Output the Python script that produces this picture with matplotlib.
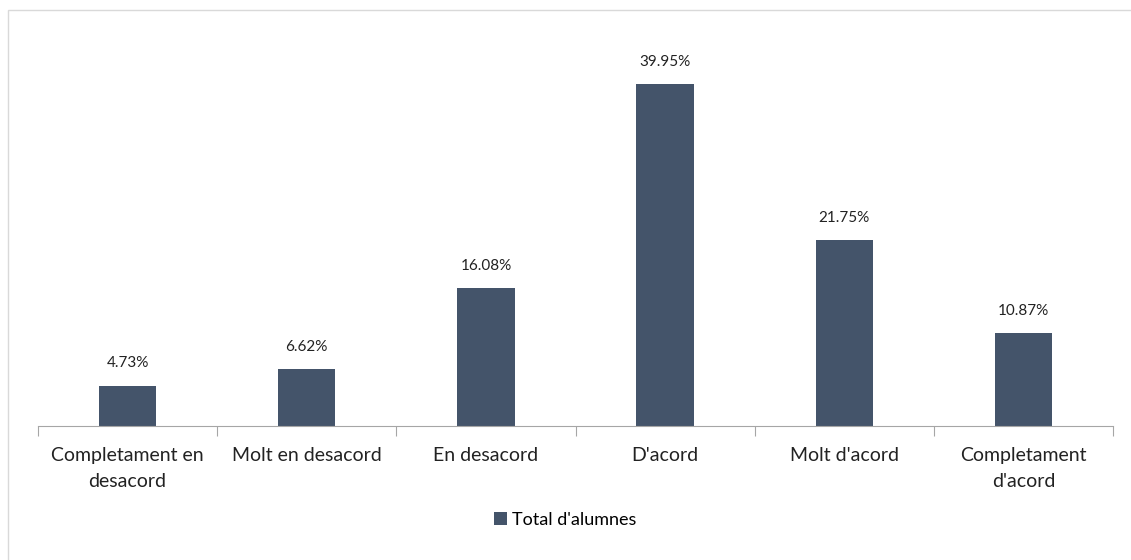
import matplotlib
matplotlib.use("Agg")
import matplotlib.pyplot as plt
from matplotlib.patches import Rectangle

categories = ["Completament en\ndesacord", "Molt en desacord", "En desacord",
              "D'acord", "Molt d'acord", "Completament\nd'acord"]
values = [4.73, 6.62, 16.08, 39.95, 21.75, 10.87]
series_name = "Total d'alumnes"

plt.rcParams['font.family'] = ['Lato', 'DejaVu Sans']
W, H = 1131, 560
fig = plt.figure(figsize=(W / 100, H / 100), dpi=100)
fig.patch.set_facecolor("white")
fig.add_artist(Rectangle((8 / W, -0.01), 1.1, (H - 10) / H + 0.01, transform=fig.transFigure,
                         fill=False, edgecolor="#d9d9d9", linewidth=1))

ax = fig.add_axes([38 / W, (H - 426) / H, (1113 - 38) / W, (426 - 41) / H])
color = "#44546A"
x = list(range(len(categories)))
bars = ax.bar(x, values, width=0.32, color=color, label=series_name)
for xi, v in zip(x, values):
    ax.text(xi, v + 1.8, f"{v:.2f}%", ha="center", va="bottom", fontsize=11, color="#222222")

ax.set_xlim(-0.5, len(categories) - 0.5)
ax.set_ylim(0, 45)
ax.set_yticks([])
for s in ["top", "right", "left"]:
    ax.spines[s].set_visible(False)
ax.spines["bottom"].set_color("#a6a6a6")
ax.set_xticks([i - 0.5 for i in range(len(categories) + 1)], minor=False)
ax.set_xticklabels([])
ax.tick_params(axis="x", which="major", length=7, color="#a6a6a6", direction="out")
ax.set_xticks(x, minor=True)
ax.set_xticklabels(categories, minor=True, fontsize=14, color="#222222", linespacing=1.65)
ax.tick_params(axis="x", which="minor", length=0, pad=15)

leg = fig.legend(handles=[bars], labels=[series_name], loc="center",
                 bbox_to_anchor=(0.5, (H - 520) / H), frameon=False, fontsize=13,
                 handlelength=0.7, handleheight=0.7, handletextpad=0.3)

fig.savefig("out.png", dpi=100)
